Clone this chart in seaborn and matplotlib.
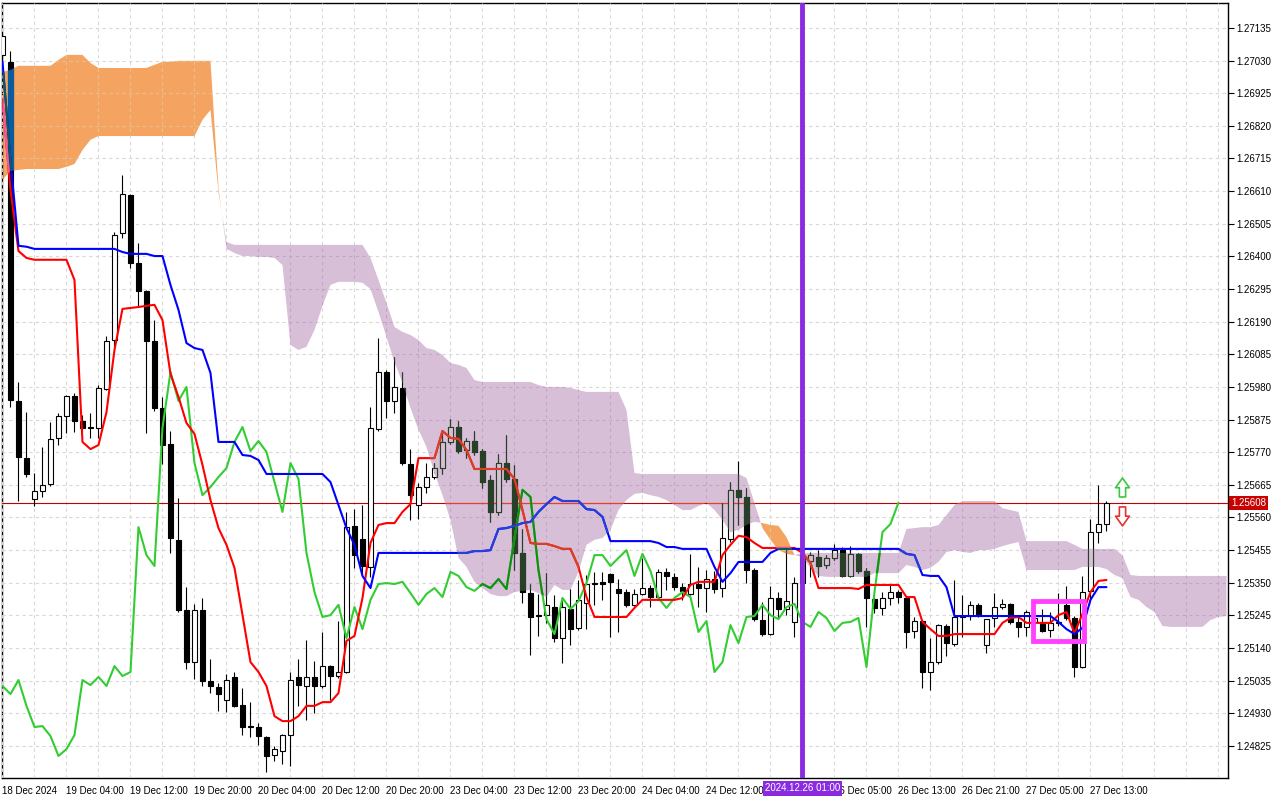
import numpy as np
import matplotlib.pyplot as plt
import matplotlib.transforms as mtransforms
from matplotlib.patches import Rectangle, PathPatch
from matplotlib.path import Path
from matplotlib.ticker import MultipleLocator
import seaborn as sns

# GBPUSD H1 from 18 Dec 20:00, prices in points (1e-5)
opens = [
    127048, 127026, 125935, 125751, 125620, 125645, 125668, 125816, 125887, 125951,
    125871, 125848, 125848, 125973, 126131, 126475, 126598, 126379, 126289, 126128,
    125912, 125797, 125488, 125262, 125095, 125262, 125034, 125015, 124973, 125047,
    124957, 124886, 124886, 124854, 124796, 124809, 124860, 125047, 125018, 125047,
    125018, 125082, 125050, 125063, 125533, 125491, 125401, 125845, 126028, 125935,
    125977, 125732, 125600, 125658, 125690, 125719, 125803, 125851, 125777, 125806,
    125774, 125681, 125578, 125735, 125684, 125446, 125317, 125243, 125246, 125272,
    125172, 125266, 125205, 125285, 125346, 125353, 125378, 125330, 125320, 125279,
    125314, 125333, 125304, 125385, 125369, 125336, 125314, 125346, 125333, 125362,
    125333, 125491, 125649, 125626, 125391, 125230, 125185, 125301, 125266, 125224,
    125349, 125420, 125433, 125407, 125430, 125455, 125372, 125443, 125388, 125298,
    125269, 125301, 125320, 125301, 125195, 125227, 125063, 125095, 125211, 125153,
    125240, 125243, 125279, 125150, 125237, 125272, 125282, 125224, 125208, 125224,
    125221, 125198, 125221, 125279, 125237, 125079, 125324, 125513, 125539]
highs = [
    127122, 127061, 125996, 125899, 125703, 125787, 125867, 125896, 125954, 125961,
    125890, 125896, 125986, 126144, 126479, 126662, 126601, 126443, 126292, 126195,
    125948, 125838, 125623, 125336, 125282, 125301, 125105, 125028, 125057, 125063,
    125012, 124966, 124899, 124857, 124825, 124864, 125063, 125105, 125166, 125098,
    125192, 125086, 125227, 125578, 125587, 125600, 125916, 126138, 126035, 126076,
    126028, 125780, 125671, 125735, 125735, 125842, 125877, 125871, 125816, 125838,
    125780, 125697, 125764, 125825, 125729, 125523, 125346, 125314, 125381, 125311,
    125304, 125330, 125359, 125375, 125385, 125385, 125381, 125362, 125330, 125330,
    125430, 125343, 125394, 125398, 125381, 125349, 125443, 125401, 125391, 125388,
    125607, 125674, 125742, 125655, 125398, 125288, 125340, 125320, 125465, 125369,
    125472, 125449, 125455, 125439, 125475, 125465, 125468, 125446, 125398, 125304,
    125320, 125343, 125327, 125304, 125240, 125230, 125172, 125217, 125217, 125359,
    125311, 125291, 125285, 125233, 125317, 125298, 125285, 125240, 125262, 125256,
    125266, 125256, 125317, 125340, 125243, 125372, 125555, 125665, 125613]
lows = [
    127026, 125916, 125613, 125690, 125597, 125626, 125661, 125793, 125832, 125835,
    125835, 125816, 125816, 125970, 126112, 126459, 126363, 126237, 125832, 125903,
    125732, 125446, 125256, 125073, 125040, 125018, 124995, 124938, 124934, 124950,
    124860, 124854, 124828, 124741, 124777, 124767, 124761, 124954, 124909, 124931,
    125012, 124973, 125044, 125060, 125398, 125375, 125369, 125838, 125880, 125896,
    125729, 125552, 125555, 125639, 125684, 125700, 125797, 125768, 125751, 125761,
    125655, 125546, 125568, 125674, 125391, 125285, 125118, 125179, 125221, 125159,
    125092, 125150, 125198, 125201, 125279, 125295, 125176, 125192, 125272, 125275,
    125311, 125272, 125295, 125327, 125327, 125295, 125311, 125272, 125256, 125317,
    125304, 125481, 125536, 125349, 125227, 125179, 125182, 125237, 125246, 125176,
    125327, 125369, 125369, 125398, 125423, 125369, 125369, 125381, 125208, 125253,
    125246, 125279, 125285, 125140, 125172, 125012, 125005, 125089, 125114, 125147,
    125176, 125230, 125240, 125124, 125208, 125266, 125217, 125176, 125179, 125205,
    125192, 125176, 125211, 125230, 125047, 125076, 125295, 125478, 125517]
closes = [
    127109, 125938, 125755, 125700, 125645, 125665, 125813, 125887, 125951, 125871,
    125848, 125851, 125977, 126128, 126469, 126601, 126379, 126289, 126128, 125912,
    125793, 125494, 125262, 125095, 125262, 125034, 125018, 124992, 125037, 124954,
    124886, 124889, 124857, 124793, 124815, 124860, 125037, 125021, 125047, 125018,
    125082, 125050, 125063, 125529, 125439, 125404, 125848, 126028, 125935, 125980,
    125735, 125632, 125658, 125690, 125719, 125803, 125851, 125774, 125806, 125771,
    125674, 125578, 125735, 125684, 125446, 125320, 125240, 125246, 125279, 125172,
    125272, 125201, 125295, 125346, 125349, 125346, 125353, 125317, 125279, 125314,
    125333, 125304, 125385, 125372, 125336, 125324, 125346, 125333, 125362, 125330,
    125494, 125649, 125626, 125391, 125233, 125185, 125301, 125266, 125291, 125349,
    125439, 125439, 125404, 125430, 125455, 125372, 125443, 125388, 125301, 125269,
    125301, 125320, 125304, 125192, 125227, 125063, 125095, 125214, 125156, 125240,
    125243, 125279, 125246, 125233, 125272, 125282, 125224, 125208, 125256, 125237,
    125195, 125221, 125224, 125237, 125079, 125320, 125513, 125539, 125608]

tenkan = [
    126903, 126614, 126417, 126395, 126389, 126389, 126389, 126389, 126389, 126324,
    125803, 125780, 125793, 125899, 126099, 126231, 126234, 126237, 126241, 126244,
    126195, 126022, 125948, 125864, 125829, 125729, 125616, 125526, 125472, 125398,
    125246, 125095, 125063, 125018, 124921, 124905, 124905, 124921, 124954, 124954,
    124966, 124966, 124995, 125163, 125179, 125301, 125478, 125536, 125542, 125542,
    125578, 125603, 125751, 125751, 125751, 125838, 125816, 125813, 125777, 125716,
    125716, 125716, 125716, 125716, 125684, 125584, 125478, 125475, 125475, 125468,
    125459, 125459, 125401, 125304, 125240, 125240, 125240, 125240, 125240, 125269,
    125295, 125295, 125295, 125295, 125295, 125301, 125343, 125353, 125353, 125353,
    125439, 125472, 125501, 125497, 125478, 125462, 125462, 125462, 125462, 125462,
    125446, 125414, 125333, 125333, 125333, 125333, 125333, 125330, 125343, 125343,
    125343, 125343, 125343, 125304, 125304, 125224, 125201, 125179, 125179, 125185,
    125185, 125185, 125185, 125185, 125185, 125221, 125237, 125240, 125221, 125221,
    125221, 125221, 125246, 125256, 125188, 125250, 125320, 125356, 125359]
kijun = [
    127026, 126710, 126434, 126431, 126424, 126424, 126424, 126424, 126424, 126424,
    126424, 126424, 126424, 126424, 126424, 126414, 126408, 126408, 126408, 126401,
    126401, 126308, 126228, 126121, 126105, 126099, 126025, 125803, 125803, 125803,
    125761, 125758, 125745, 125700, 125700, 125700, 125700, 125700, 125700, 125700,
    125700, 125674, 125600, 125526, 125472, 125372, 125333, 125446, 125446, 125446,
    125446, 125446, 125446, 125446, 125446, 125446, 125446, 125446, 125446, 125452,
    125452, 125455, 125523, 125526, 125533, 125542, 125546, 125578, 125603, 125626,
    125613, 125613, 125613, 125587, 125584, 125562, 125484, 125484, 125484, 125484,
    125484, 125484, 125478, 125465, 125465, 125459, 125459, 125459, 125459, 125401,
    125353, 125381, 125417, 125417, 125417, 125417, 125446, 125459, 125459, 125459,
    125459, 125459, 125459, 125459, 125459, 125459, 125459, 125459, 125459, 125459,
    125459, 125459, 125459, 125443, 125439, 125375, 125372, 125372, 125336, 125243,
    125243, 125243, 125243, 125243, 125243, 125243, 125243, 125243, 125243, 125243,
    125243, 125243, 125224, 125201, 125185, 125205, 125295, 125336, 125336]
senkou_a = [
    126993, 127000, 127013, 127013, 127013, 127013, 127013, 127032, 127048, 127048,
    127048, 127022, 127006, 127006, 127006, 127006, 127006, 127006, 127006, 127016,
    127026, 127026, 127029, 127029, 127029, 127029, 127029, 126620, 126424, 126411,
    126401, 126401, 126398, 126398, 126395, 126372, 126115, 126099, 126109, 126163,
    126241, 126308, 126318, 126318, 126318, 126315, 126295, 126221, 126141, 126060,
    125993, 125912, 125842, 125787, 125703, 125632, 125552, 125430, 125401, 125353,
    125333, 125314, 125307, 125307, 125320, 125324, 125327, 125317, 125304, 125343,
    125327, 125327, 125385, 125472, 125488, 125494, 125520, 125584, 125616, 125636,
    125639, 125632, 125626, 125616, 125600, 125584, 125584, 125597, 125607, 125584,
    125552, 125513, 125520, 125536, 125546, 125542, 125536, 125533, 125497, 125439,
    125433, 125398, 125372, 125369, 125369, 125369, 125369, 125369, 125369, 125381,
    125381, 125381, 125381, 125407, 125401, 125391, 125398, 125417, 125449, 125455,
    125449, 125446, 125455, 125455, 125459, 125468, 125475, 125481, 125391, 125391,
    125391, 125391, 125391, 125391, 125391, 125401, 125401, 125401, 125394, 125375,
    125365, 125304, 125295, 125272, 125256, 125211, 125208, 125208, 125208, 125208,
    125208, 125230, 125240, 125243]
senkou_b = [
    126646, 126675, 126678, 126681, 126681, 126681, 126681, 126681, 126688, 126697,
    126742, 126775, 126787, 126787, 126787, 126787, 126787, 126787, 126787, 126787,
    126787, 126787, 126787, 126787, 126787, 126839, 126871, 126607, 126446, 126437,
    126437, 126437, 126437, 126437, 126437, 126437, 126437, 126437, 126437, 126437,
    126437, 126437, 126437, 126437, 126437, 126437, 126395, 126324, 126250, 126173,
    126157, 126147, 126131, 126105, 126099, 126083, 126057, 126051, 126041, 126002,
    125996, 125996, 125996, 125996, 125996, 125996, 125996, 125986, 125980, 125980,
    125980, 125977, 125970, 125964, 125964, 125964, 125964, 125964, 125906, 125703,
    125700, 125700, 125700, 125700, 125700, 125700, 125700, 125700, 125700, 125700,
    125700, 125700, 125700, 125687, 125607, 125526, 125488, 125455, 125443, 125439,
    125446, 125446, 125446, 125446, 125446, 125446, 125446, 125446, 125446, 125446,
    125446, 125446, 125446, 125523, 125526, 125529, 125529, 125536, 125568, 125600,
    125613, 125613, 125613, 125613, 125613, 125590, 125584, 125578, 125484, 125484,
    125484, 125484, 125484, 125484, 125472, 125459, 125459, 125459, 125459, 125459,
    125439, 125375, 125372, 125372, 125372, 125372, 125372, 125372, 125372, 125372,
    125372, 125372, 125372, 125372]

# one label every 8 bars; the 24 Dec 20:00 slot is hidden under the cursor label
time_labels = ['18 Dec 2024', '19 Dec 04:00', '19 Dec 12:00', '19 Dec 20:00',
               '20 Dec 04:00', '20 Dec 12:00', '20 Dec 20:00', '23 Dec 04:00',
               '23 Dec 12:00', '23 Dec 20:00', '24 Dec 04:00', '24 Dec 12:00',
               '', '26 Dec 05:00', '26 Dec 13:00', '26 Dec 21:00',
               '27 Dec 05:00', '27 Dec 13:00']
marker_bar = 100
marker_text = '2024.12.26 01:00'
signal_bar = 140
buy_arrow = (1.25626, 1.25687)
sell_arrow = (1.25594, 1.25533)
box_bars = (128.8, 135.2)
box_prices = (1.25163, 1.25292)

PT = 1e5
o = np.array(opens) / PT
h = np.array(highs) / PT
l = np.array(lows) / PT
c = np.array(closes) / PT
bars = np.arange(len(c))
cx = np.arange(len(senkou_a))
sa = np.array(senkou_a) / PT
sb = np.array(senkou_b) / PT
yticks = [1.24825 + 0.00105 * k for k in range(23)]

sns.set_style('white')
plt.rcParams['font.family'] = ['Liberation Sans', 'DejaVu Sans']

fig = plt.figure(figsize=(12.8, 8), dpi=100)
ax = fig.add_axes([2/1280, 22/800, 1226/1280, 775/800])
ax.set_xlim(-0.06, 153.19)
ax.set_ylim(1.24722, 1.27215)

# kumo
KUMO_UP, KUMO_DN = '#F4A460', '#D8BFD8'
bull_fill = ax.fill_between(cx, sa, sb, where=sa >= sb, interpolate=True, color=KUMO_UP, lw=0, zorder=1)
bear_fill = ax.fill_between(cx, sa, sb, where=sa < sb, interpolate=True, color=KUMO_DN, lw=0, zorder=1)


def clip_patch(coll):
    paths = coll.get_paths()
    p = PathPatch(Path.make_compound_path(*paths), transform=ax.transData,
                  facecolor='none', edgecolor='none')
    return p


# MT5 paints the cloud in xor mode: dark marks inside it show the inverted cloud colour
kumo_xor = [
    (clip_patch(bear_fill), KUMO_DN, dict(dark='#274027', red='#D84027', blue='#2740D8',
                                          green='#158D15', grid='#C7A0C7', price='#E74027')),
    (clip_patch(bull_fill), KUMO_UP, dict(dark='#0B5B9F', red='#F45B9F', blue='#0B5B60',
                                          green='#3996AD', grid='#EBBB7F', price='#CB5B9F')),
]

GRID = '#D8D8D8'
DASH = (0, (3, 3))


def candles(bull_face, dark, z, clip=None):
    wick = ax.vlines(bars, l, h, color=dark, lw=0.8, zorder=z)
    up = c >= o
    body = np.where(np.abs(c - o) < 1e-5, 1e-6, c - o)
    rects = ax.bar(bars, body, bottom=o, width=0.62, color=np.where(up, bull_face, dark),
                   edgecolor=dark, linewidth=0.8, zorder=z + 0.2)
    if clip is not None:
        wick.set_clip_path(clip)
        for r in rects:
            r.set_clip_path(clip)


def lines(cols, z, clip=None):
    series = [(bars[:-26], c[26:], cols['green']),
              (bars, np.array(tenkan) / PT, cols['red']),
              (bars, np.array(kijun) / PT, cols['blue'])]
    for xs, ys, col in series:
        sns.lineplot(x=xs, y=ys, ax=ax, color=col, linewidth=1.5, zorder=z)
        if clip is not None:
            ax.lines[-1].set_clip_path(clip)


ax.axhline(c[-1], color='#C00000', lw=0.8, zorder=2.6)
candles('white', 'black', 3)
lines(dict(green='#32CD32', red='#FF0000', blue='#0000FF'), 5)

for patch, face, cols in kumo_xor:
    for y in yticks:
        ax.axhline(y, color=cols['grid'], ls=DASH, lw=0.8, zorder=2.55).set_clip_path(patch)
    for xb in np.arange(0, 154, 4):
        ax.axvline(xb, color=cols['grid'], ls=DASH, lw=0.8, zorder=2.55).set_clip_path(patch)
    ax.axhline(c[-1], color=cols['price'], lw=0.8, zorder=2.7).set_clip_path(patch)
    candles(face, cols['dark'], 3.5, clip=patch)
    lines(cols, 5.1, clip=patch)

ax.axvline(marker_bar, color='#8A2BE2', lw=3.5, zorder=6)
ax.add_patch(Rectangle((box_bars[0], box_prices[0]), box_bars[1] - box_bars[0],
                       box_prices[1] - box_prices[0], fill=False, ec='#FF40FF', lw=3.5, zorder=7))

for (tail, tip), col in [(buy_arrow, '#3CC83C'), (sell_arrow, '#E83030')]:
    ax.annotate('', xy=(signal_bar, tip), xytext=(signal_bar, tail),
                arrowprops=dict(arrowstyle='simple,head_length=0.7,head_width=1.0,tail_width=0.45',
                                fc='white', ec=col, lw=1.2, mutation_scale=10,
                                shrinkA=0, shrinkB=0), zorder=8)

ax.yaxis.tick_right()
ax.set_yticks(yticks)
ax.set_yticklabels([f'{v:.5f}' for v in yticks])
ax.set_xticks(np.arange(len(time_labels)) * 8)
ax.set_xticklabels(time_labels)
for lbl in ax.get_xticklabels():
    lbl.set_ha('left')
ax.xaxis.set_minor_locator(MultipleLocator(4))
ax.tick_params(axis='both', which='major', length=4, width=0.8, direction='out',
               labelsize=7, pad=2, colors='black')
ax.tick_params(axis='x', which='minor', length=0)
ax.xaxis.grid(True, which='both', color=GRID, ls=DASH, lw=0.8)
ax.yaxis.grid(True, which='major', color=GRID, ls=DASH, lw=0.8)
ax.set_axisbelow(False)
for s in ax.spines.values():
    s.set_color('black')
    s.set_linewidth(1)

tr = mtransforms.blended_transform_factory(ax.transData, ax.transAxes)
ax.text(marker_bar, -0.007, marker_text, transform=tr, ha='center', va='top', fontsize=7,
        color='white', bbox=dict(fc='#8A2BE2', ec='none', pad=1.6), clip_on=False, zorder=10)
tr2 = mtransforms.blended_transform_factory(ax.transAxes, ax.transData)
ax.text(1.0 + 3/1226, c[-1], f'{c[-1]:.5f}', transform=tr2, ha='left', va='center', fontsize=7,
        color='white', bbox=dict(fc='#C80000', ec='none', pad=1.4), clip_on=False, zorder=10)

fig.savefig('out.png', dpi=100)
